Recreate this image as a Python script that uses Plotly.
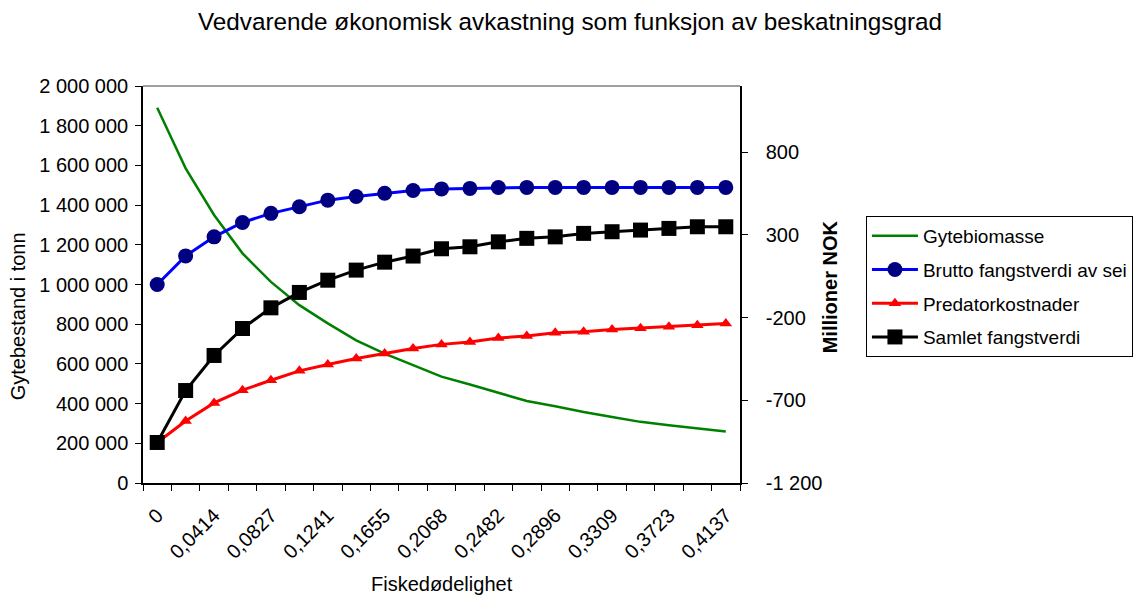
import plotly.graph_objects as go

# Fiskedødelighet categories
f_labels = ["0", "0,0207", "0,0414", "0,062", "0,0827", "0,1034", "0,1241", "0,1448",
            "0,1655", "0,1861", "0,2068", "0,2275", "0,2482", "0,2689", "0,2896", "0,3102",
            "0,3309", "0,3516", "0,3723", "0,393", "0,4137"]
shown_labels = ["0", "", "0,0414", "", "0,0827", "", "0,1241", "", "0,1655", "", "0,2068", "",
                "0,2482", "", "0,2896", "", "0,3309", "", "0,3723", "", "0,4137"]

# Left axis: spawning biomass (tonnes)
gytebiomasse = [1890000, 1585000, 1350000, 1157000, 1013000, 896000, 804000, 719000,
                652000, 593000, 536000, 496000, 454000, 413000, 387000, 358000,
                333000, 308000, 291000, 276000, 260000]

# Right axis: million NOK
brutto = [0, 173, 288, 375, 430, 470, 510, 532, 552, 568, 578, 581, 586, 587, 587, 587,
          587, 587, 587, 587, 587]
predator = [-955, -825, -716, -639, -579, -522, -484, -447, -417, -387, -362, -347, -323,
            -312, -292, -286, -272, -264, -256, -246, -236]
samlet = [-955, -641, -429, -266, -141, -48, 26, 87, 135, 172, 216, 228, 258, 279, 288,
          309, 319, 329, 339, 349, 349]

left_ticks = [0, 200000, 400000, 600000, 800000, 1000000, 1200000, 1400000, 1600000,
              1800000, 2000000]
right_ticks = [-1200, -700, -200, 300, 800]
right_ticktext = ["-1 200", "-700", "-200", "300", "800"]

FONT = "Liberation Sans, Arial, sans-serif"

fig = go.Figure()
fig.add_trace(go.Scatter(x=f_labels, y=gytebiomasse, name="Gytebiomasse", mode="lines",
                         line=dict(color="#008000", width=2.5), yaxis="y", legendgroup="g1"))
fig.add_trace(go.Scatter(x=f_labels, y=brutto, name="Brutto fangstverdi av sei",
                         mode="lines+markers", line=dict(color="#0000FF", width=3),
                         marker=dict(symbol="circle", size=15, color="#000080"), yaxis="y2",
                         legendgroup="g2"))
fig.add_trace(go.Scatter(x=f_labels, y=predator, name="Predatorkostnader",
                         mode="lines+markers", line=dict(color="#FF0000", width=3),
                         marker=dict(symbol="triangle-up", size=11, color="#FF0000"), yaxis="y2",
                         legendgroup="g3"))
fig.add_trace(go.Scatter(x=f_labels, y=samlet, name="Samlet fangstverdi",
                         mode="lines+markers", line=dict(color="#000000", width=3),
                         marker=dict(symbol="square", size=15, color="#000000"), yaxis="y2",
                         legendgroup="g4"))

fig.update_layout(
    width=1140, height=601,
    margin=dict(l=143, r=400, t=86, b=118),
    paper_bgcolor="white", plot_bgcolor="white",
    separators=", ",
    font=dict(family=FONT, size=20, color="black"),
    title=dict(text="Vedvarende økonomisk avkastning som funksjon av beskatningsgrad",
               x=0.5, xref="container", xanchor="center",
               y=0.965, yref="container", yanchor="middle",
               font=dict(family=FONT, size=24.3, color="black")),
    xaxis=dict(type="category", range=[-0.5, 20.5], tickmode="array",
               tickvals=f_labels, ticktext=shown_labels, tickson="boundaries",
               tickangle=-45, ticks="outside", ticklen=6, tickcolor="black",
               ticklabelstandoff=11,
               showline=True, linecolor="black", linewidth=1.5, showgrid=False,
               zeroline=False, tickfont=dict(size=20)),
    yaxis=dict(range=[0, 2000000], tickmode="array", tickvals=left_ticks,
               tickformat=",d", ticks="outside", ticklen=6, tickcolor="black",
               ticklabelstandoff=3,
               showline=True, linecolor="black", linewidth=1.5, showgrid=False,
               zeroline=False, tickfont=dict(size=20)),
    yaxis2=dict(range=[-1200, 1200], overlaying="y", side="right", tickmode="array",
                tickvals=right_ticks, ticktext=right_ticktext, ticks="outside", ticklen=6,
                ticklabelstandoff=14,
                tickcolor="black", showline=True, linecolor="black", linewidth=1.5,
                showgrid=False, zeroline=False, tickfont=dict(size=20)),
    legend=dict(x=0.7596, xref="container", xanchor="left",
                y=0.6406, yref="container", yanchor="top",
                bordercolor="black", borderwidth=1, bgcolor="white",
                font=dict(family=FONT, size=19, color="black"),
                tracegroupgap=6, itemwidth=46),
    showlegend=True,
)

# top border of plot area
fig.add_shape(type="line", xref="paper", yref="paper", x0=0, x1=1, y0=1, y1=1,
              line=dict(color="#808080", width=1.5))

# axis titles
fig.add_annotation(text="Fiskedødelighet", xref="paper", yref="paper", x=0.5, y=-0.254,
                   xanchor="center", yanchor="middle", showarrow=False,
                   font=dict(family=FONT, size=20, color="black"))
fig.add_annotation(text="Gytebestand i tonn", xref="paper", yref="paper", x=-0.21, y=0.419,
                   xanchor="center", yanchor="middle", textangle=-90, showarrow=False,
                   font=dict(family=FONT, size=20, color="black"))
fig.add_annotation(text="<b>Millioner NOK</b>", xref="paper", yref="paper", x=1.1508, y=0.493,
                   xanchor="center", yanchor="middle", textangle=-90, showarrow=False,
                   font=dict(family=FONT, size=20, color="black"))

fig.write_html("out.html")
